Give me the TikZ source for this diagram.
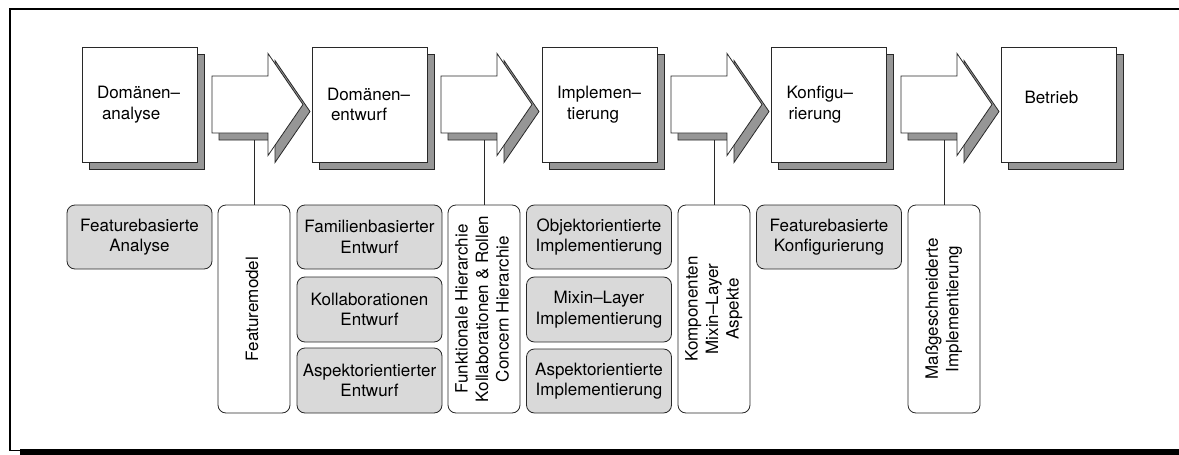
\documentclass[tikz,border=0pt]{standalone}
\usepackage{fontspec}
\usepackage{graphicx}
\setmainfont{TeX Gyre Heros}
\usetikzlibrary{shadows}
\definecolor{shadowgray}{RGB}{150,150,150}
\definecolor{boxgray}{RGB}{217,217,217}
\definecolor{edge}{RGB}{40,40,40}

\tikzset{
  % phase arrow between two process steps, with its drop shadow
  phasearrow/.pic={
    \path[arrowline, fill=shadowgray, shift={(7,7)}]
      (0,-28.5) -- (56,-28.5) -- (56,-51) -- (91,0) -- (56,51) -- (56,28.5) -- (0,28.5) -- cycle;
    \path[arrowline, fill=white]
      (0,-28.5) -- (56,-28.5) -- (56,-51) -- (91,0) -- (56,51) -- (56,28.5) -- (0,28.5) -- cycle;
    \coordinate (-foot) at (42,35.5);
  }
}

\begin{document}
\begin{tikzpicture}[x=1pt,y=-1pt,
  every node/.style={font=\fontsize{17}{20.5}\selectfont, text=black},
  arrowline/.style={draw=edge, line width=0.8pt},
  phase/.style={draw=edge, line width=0.8pt, fill=white,
    minimum width=115pt, minimum height=115pt,
    text width=85pt, inner xsep=15pt, inner ysep=0pt, align=left,
    copy shadow={shadow xshift=7pt, shadow yshift=-7pt, fill=shadowgray, draw=edge}},
  techbox/.style={draw=edge, line width=0.8pt, fill=boxgray, rounded corners=8pt,
    minimum width=145pt, minimum height=64pt, inner sep=0pt, align=center},
  modelbox/.style={draw=edge, line width=0.8pt, fill=white, rounded corners=8pt,
    minimum width=72pt, minimum height=208pt, inner sep=0pt},
  link/.style={draw=edge, line width=0.8pt}
]
\useasboundingbox (0,0) rectangle (1179,455);

% outer frame with its shadow bar
\draw[line width=1.8pt] (1179,9.2) -- (10.3,9.2) -- (10.3,450.4) -- (21,450.4);
\fill (20,449.3) rectangle (1179,455);

% process steps
\node[phase] (s1) at (139.5,104.5) {Domänen–\\\hspace*{5pt}analyse};
\node[phase] (s2) at (369.5,104.5) {Domänen–\\\hspace*{4pt}entwurf};
\node[phase] (s3) at (599.5,104.5) {Implemen–\\\hspace*{10pt}tierung};
\node[phase] (s4) at (829,104.5) {Konfigu–\\\hspace*{2pt}rierung};
\node[phase, text depth=13.4pt] (s5) at (1059,104.5) {\hspace*{8pt}Betrieb};

% models handed on between steps
\node[modelbox] (fm) at (254,309)
  {\rotatebox{90}{\begin{tabular}{@{}c@{}}Featuremodel\end{tabular}}};
\node[modelbox] (fh) at (484,309)
  {\rotatebox{90}{\begin{tabular}{@{}c@{}}Funktionale Hierarchie\\Kollaborationen \& Rollen\\Concern Hierarchie\end{tabular}}};
\node[modelbox] (km) at (714,309)
  {\rotatebox{90}{\begin{tabular}{@{}c@{}}Komponenten\\Mixin–Layer\\Aspekte\end{tabular}}};
\node[modelbox] (mi) at (944,309)
  {\rotatebox{90}{\begin{tabular}{@{}c@{}}Maßgeschneiderte\\Implementierung\end{tabular}}};

% techniques per step
\node[techbox] (fa) at (139.5,237) {Featurebasierte\\Analyse};
\node[techbox] (fe) at (369.5,237) {Familienbasierter\\Entwurf};
\node[techbox, minimum height=65pt] (ke) at (369.5,309.5) {Kollaborationen\\Entwurf};
\node[techbox, minimum height=65pt] (ae) at (369.5,380.5) {Aspektorientierter\\Entwurf};
\node[techbox] (oi) at (599,237) {Objektorientierte\\Implementierung};
\node[techbox, minimum height=65pt] (ml) at (599,309.5) {Mixin–Layer\\Implementierung};
\node[techbox] (ai) at (599,381) {Aspektorientierte\\Implementierung};
\node[techbox] (fk) at (829,237) {Featurebasierte\\Konfigurierung};

% arrows between steps
\pic (a1) at (212,104.5) {phasearrow};
\pic (a2) at (441,104.5) {phasearrow};
\pic (a3) at (671,104.5) {phasearrow};
\pic (a4) at (901,104.5) {phasearrow};

% each arrow carries its model
\draw[link] (fm.north) -- (fm.north |- a1-foot);
\draw[link] (fh.north) -- (fh.north |- a2-foot);
\draw[link] (km.north) -- (km.north |- a3-foot);
\draw[link] (mi.north) -- (mi.north |- a4-foot);
\end{tikzpicture}
\end{document}
